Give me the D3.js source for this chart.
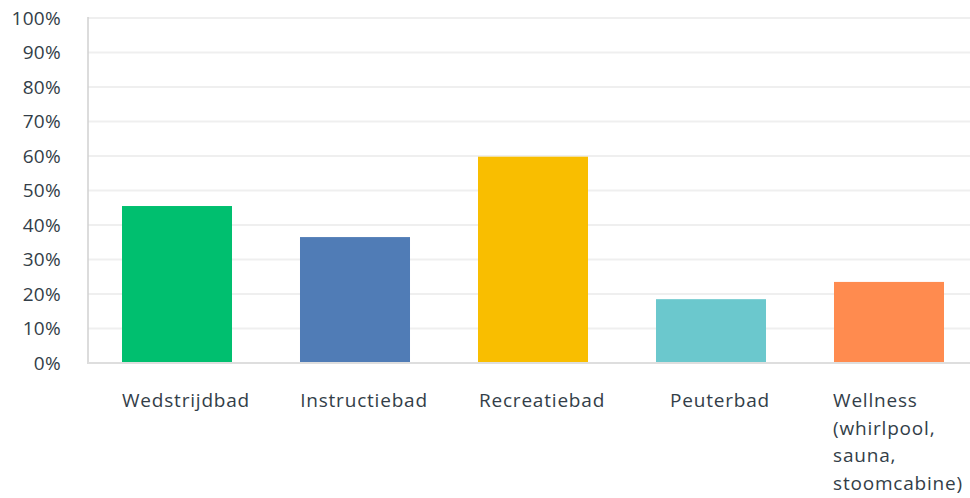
<!DOCTYPE html>
<html>
<head>
<meta charset="utf-8">
<script src="https://cdn.jsdelivr.net/npm/d3@7"></script>
<style>
  body { margin: 0; background: #fff; }
  svg text { font-family: "Open Sans", sans-serif; fill: #333e48; }
</style>
</head>
<body>
<svg id="chart" width="970" height="498"></svg>
<script>
// chart data
var categories = ['Wedstrijdbad', 'Instructiebad', 'Recreatiebad', 'Peuterbad',
  ['Wellness', '(whirlpool,', 'sauna,', 'stoomcabine)']]
var values = [45.5, 36.5, 59.8, 18.5, 23.5]
var colors = ['#00bf6f', '#507cb6', '#f9be00', '#6bc8cd', '#ff8b4f']
var yTicks = [0, 10, 20, 30, 40, 50, 60, 70, 80, 90, 100]

var svg = d3.select('#chart')

var x = d3.scaleBand().range([88, 978]).domain(d3.range(values.length))
    .paddingInner(0.382).paddingOuter(0.191)
var y = d3.scaleLinear().range([363, 18]).domain([0, 100])

// gridlines
svg.append('g').selectAll('line').data(yTicks.slice(1)).enter()
    .append('line')
    .attr('x1', 88).attr('x2', 970)
    .attr('y1', d => y(d)).attr('y2', d => y(d))
    .attr('stroke', '#efefef').attr('stroke-width', 2)

// y labels
svg.append('g').selectAll('text').data(yTicks).enter()
    .append('text')
    .attr('x', 61).attr('y', d => y(d))
    .attr('dy', '0.36em')
    .attr('text-anchor', 'end')
    .style('font-size', '19px')
    .style('letter-spacing', '0.3px')
    .text(d => d + '%')

// bars
svg.append('g').selectAll('rect').data(values).enter()
    .append('rect')
    .attr('x', (d, i) => x(i))
    .attr('width', x.bandwidth())
    .attr('y', d => y(d))
    .attr('height', d => y(0) - y(d))
    .attr('fill', (d, i) => colors[i])

// axis lines
svg.append('line').attr('x1', 88).attr('x2', 88).attr('y1', 17).attr('y2', 364)
    .attr('stroke', '#d0d0d0').attr('stroke-width', 1.5)
svg.append('line').attr('x1', 88).attr('x2', 970).attr('y1', 363).attr('y2', 363)
    .attr('stroke', '#dedede').attr('stroke-width', 2)

// category labels (multi-line ones are a left-aligned block, centred)
var labels = svg.append('g').selectAll('text').data(categories).enter()
    .append('text')
    .style('font-size', '19px')
    .style('letter-spacing', '0.8px')
    .attr('y', 407)
labels.each(function(d, i) {
  var t = d3.select(this)
  var lines = Array.isArray(d) ? d : [d]
  lines.forEach((l, j) => {
    t.append('tspan').attr('dy', j == 0 ? 0 : 27.7).text(l)
  })
  var w = d3.max(t.selectAll('tspan').nodes(), n => n.getComputedTextLength())
  var left = x(i) + x.bandwidth() / 2 + 9 - w / 2
  t.selectAll('tspan').attr('x', left)
})
</script>
</body>
</html>
